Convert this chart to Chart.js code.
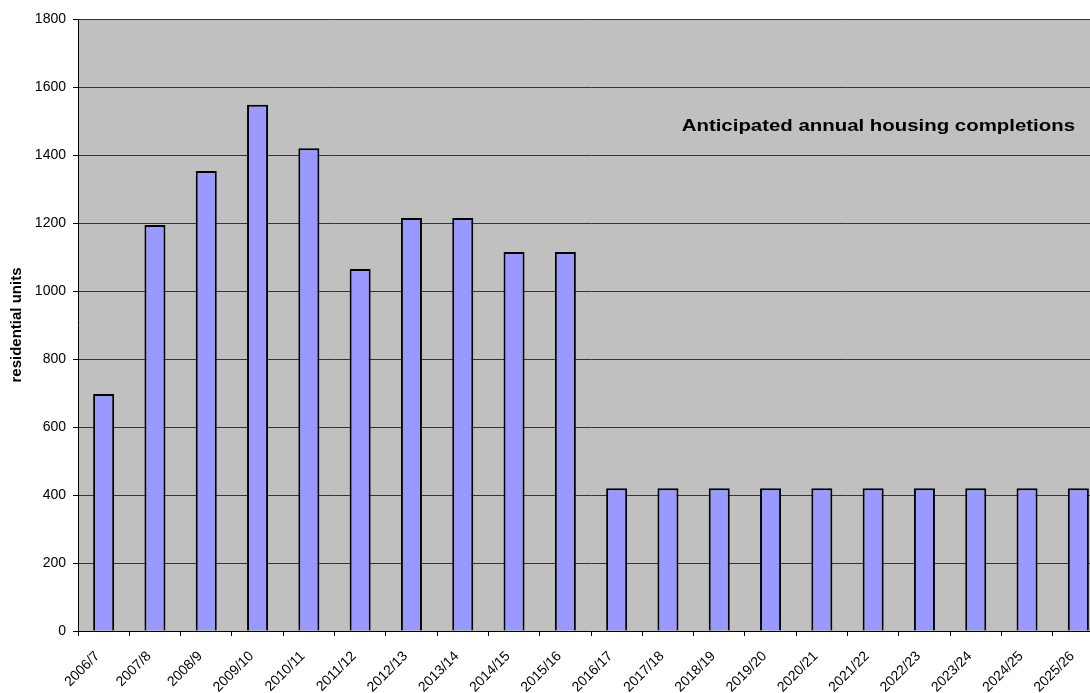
<!DOCTYPE html>
<html>
<head>
<meta charset="utf-8">
<script src="https://cdn.jsdelivr.net/npm/chart.js@4"></script>
<style>
  html, body { margin: 0; padding: 0; background: #fff; overflow: hidden; }
  #wrap { width: 1106px; height: 693px; }
</style>
</head>
<body>
<div id="wrap"><canvas id="c" width="1106" height="693"></canvas></div>
<script>
// Financial years
const years = [
  '2006/7', '2007/8', '2008/9', '2009/10', '2010/11', '2011/12', '2012/13',
  '2013/14', '2014/15', '2015/16', '2016/17', '2017/18', '2018/19', '2019/20',
  '2020/21', '2021/22', '2022/23', '2023/24', '2024/25', '2025/26'
];

// Anticipated completions per year (residential units)
const completions = [
  697, 1194, 1353, 1548, 1420, 1065, 1215,
  1215, 1115, 1115, 420, 420, 420, 420,
  420, 420, 420, 420, 420, 420
];

// Y axis tick values
const yTicks = [0, 200, 400, 600, 800, 1000, 1200, 1400, 1600, 1800];

const noteText = 'Anticipated annual housing completions';
const yTitle = 'residential units';

const FONT = "'Liberation Sans', Arial, sans-serif";

// Grey plot background plus the in-chart note
const plotDecor = {
  id: 'plotDecor',
  beforeDraw(chart) {
    const { ctx, chartArea: a } = chart;
    ctx.save();
    ctx.fillStyle = '#C0C0C0';
    ctx.fillRect(a.left, a.top, a.right - a.left, a.bottom - a.top);
    ctx.restore();
  },
  afterDatasetsDraw(chart) {
    const { ctx, chartArea: a } = chart;
    ctx.save();
    ctx.fillStyle = '#000';
    ctx.font = 'bold 17px ' + FONT;
    ctx.textAlign = 'right';
    ctx.textBaseline = 'middle';
    // slightly widened lettering
    ctx.translate(a.left + 997, a.top + 107);
    ctx.scale(1.2, 1);
    ctx.fillText(noteText, 0, 0);
    ctx.restore();
  }
};

new Chart(document.getElementById('c'), {
  type: 'bar',
  data: {
    labels: years,
    datasets: [{
      data: completions,
      backgroundColor: '#9999FF',
      borderColor: '#000000',
      borderWidth: 2,
      categoryPercentage: 1,
      barPercentage: 0.41
    }]
  },
  options: {
    responsive: false,
    animation: false,
    layout: { padding: { left: 0, top: 19, right: 2, bottom: 0 } },
    plugins: {
      legend: { display: false },
      tooltip: { enabled: false }
    },
    scales: {
      x: {
        offset: true,
        grid: {
          offset: true,
          drawOnChartArea: false,
          drawTicks: true,
          tickLength: 5,
          color: '#000'
        },
        border: { display: true, color: '#000', width: 1 },
        ticks: {
          color: '#000',
          font: { family: FONT, size: 14 },
          maxRotation: 45,
          minRotation: 45,
          autoSkip: false,
          padding: 12,
          labelOffset: -6
        },
        afterFit(scale) { scale.height = 62; }
      },
      y: {
        min: 0,
        max: 1800,
        afterBuildTicks(scale) { scale.ticks = yTicks.map(v => ({ value: v })); },
        grid: {
          color: '#333',
          lineWidth: 1,
          tickLength: 5,
          tickColor: '#000'
        },
        border: { display: true, color: '#000', width: 1 },
        ticks: {
          color: '#000',
          font: { family: FONT, size: 14 },
          padding: 7,
          callback: (v) => String(v)
        },
        title: {
          display: true,
          text: yTitle,
          color: '#000',
          font: { family: FONT, size: 15, weight: 'bold' },
          padding: { top: 8, bottom: 4 }
        },
        afterFit(scale) { scale.width = 78; }
      }
    }
  },
  plugins: [plotDecor]
});
</script>
</body>
</html>
